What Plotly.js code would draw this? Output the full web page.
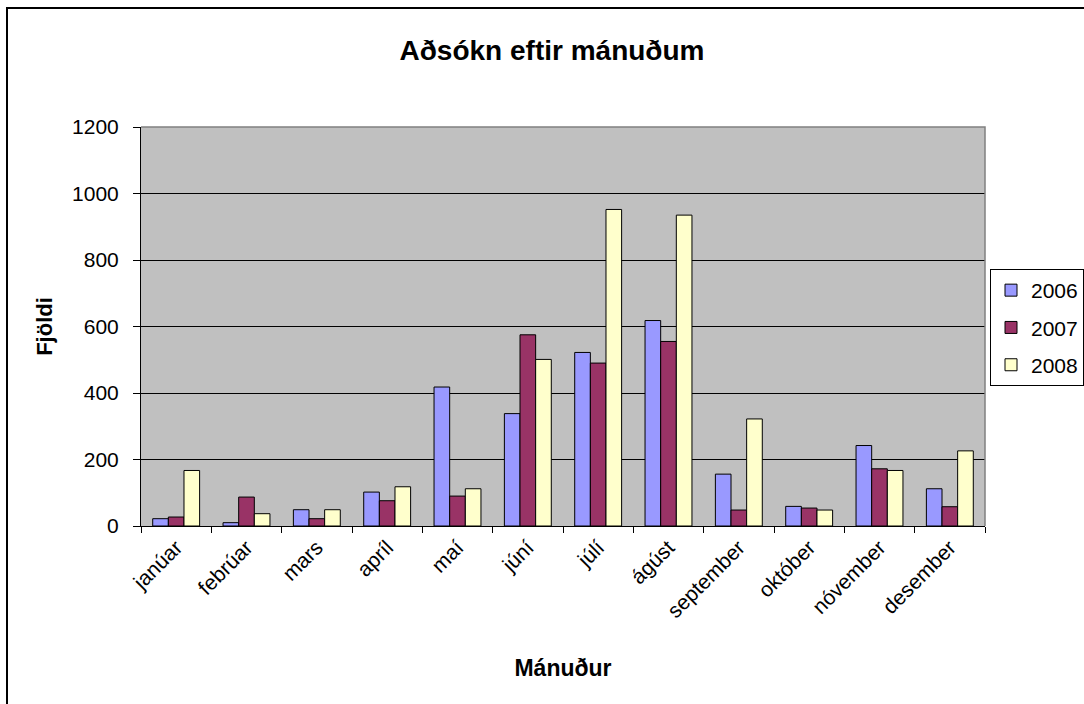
<!DOCTYPE html>
<html>
<head>
<meta charset="utf-8">
<script src="https://cdn.plot.ly/plotly-3.0.1.min.js"></script>
<style>html,body{margin:0;padding:0;background:#fff;}#chart{width:1084px;height:704px;}</style>
</head>
<body>
<div id="chart"></div>
<script>
const months = ["janúar","febrúar","mars","apríl","maí","júní","júlí","ágúst","september","október","nóvember","desember"];
const series2006 = [22, 10, 49, 102, 418, 338, 522, 618, 156, 59, 242, 112];
const series2007 = [27, 87, 22, 76, 90, 575, 490, 555, 48, 54, 172, 58];
const series2008 = [167, 37, 49, 118, 112, 501, 952, 935, 322, 48, 167, 226];
const yTicks = [0, 200, 400, 600, 800, 1000, 1200];

const FONT = "Liberation Sans, Arial, sans-serif";
const W = 1084, H = 704;
const L = 141, R = 985, T = 127, B = 526;
const pw = R - L, ph = B - T;
const px = x => (x - L) / pw;
const py = y => (B - y) / ph;

function bar(name, vals, color) {
  return {
    type: "bar", name: name, x: months, y: vals, legendgroup: name,
    marker: {color: color, line: {color: "#000", width: 1}},
    hoverinfo: "x+y+name"
  };
}

const data = [
  bar("2006", series2006, "#9999FF"),
  bar("2007", series2007, "#993366"),
  bar("2008", series2008, "#FFFFCC")
];

const layout = {
  width: W, height: H,
  margin: {l: L, r: W - R, t: T, b: H - B, pad: 0, autoexpand: false},
  paper_bgcolor: "#fff",
  plot_bgcolor: "#C0C0C0",
  font: {family: FONT, size: 21, color: "#000"},
  title: {
    text: "Aðsókn eftir mánuðum",
    font: {family: FONT, size: 28, weight: "bold", color: "#000"},
    x: 552 / W, xref: "container", xanchor: "center",
    y: 1 - 50 / H, yref: "container", yanchor: "middle"
  },
  barmode: "group",
  bargap: 0.333,
  bargroupgap: 0,
  showlegend: true,
  legend: {
    x: px(990), xanchor: "left", y: py(269), yanchor: "top",
    bordercolor: "#000", borderwidth: 1, bgcolor: "#fff",
    font: {family: FONT, size: 21, color: "#000"},
    tracegroupgap: 7
  },
  xaxis: {
    type: "category",
    tickangle: -45,
    ticks: "outside", ticklen: 6, tickcolor: "#000", tickwidth: 1,
    tickson: "boundaries",
    showline: true, linecolor: "#000", linewidth: 1,
    showgrid: false, zeroline: false,
    tickfont: {family: FONT, size: 21, color: "#000"},
    title: {text: "Mánuður", font: {family: FONT, size: 23, weight: "bold", color: "#000"}, standoff: 38},
    automargin: false
  },
  yaxis: {
    range: [0, 1200],
    tickvals: yTicks,
    ticktext: yTicks.map(String),
    ticks: "outside", ticklen: 7, tickcolor: "#000", tickwidth: 1,
    ticklabelstandoff: 10,
    showline: true, linecolor: "#000", linewidth: 1,
    showgrid: true, gridcolor: "#000", gridwidth: 1,
    zeroline: false,
    tickfont: {family: FONT, size: 21, color: "#000"},
    title: {text: "Fjöldi", font: {family: FONT, size: 22, weight: "bold", color: "#000"}, standoff: 13},
    automargin: false
  },
  shapes: [
    {type: "path", xref: "paper", yref: "paper",
     path: "M " + px(L) + " " + py(T) + " L " + px(R) + " " + py(T) + " L " + px(R) + " " + py(B),
     line: {color: "#808080", width: 1.5}, layer: "above"},
    {type: "path", xref: "paper", yref: "paper",
     path: "M " + px(7) + " " + py(H + 20) + " L " + px(7) + " " + py(8) + " L " + px(W + 20) + " " + py(8),
     line: {color: "#000", width: 2}, layer: "above"}
  ]
};

Plotly.newPlot("chart", data, layout, {displayModeBar: false, responsive: false, staticPlot: true});
</script>
</body>
</html>
